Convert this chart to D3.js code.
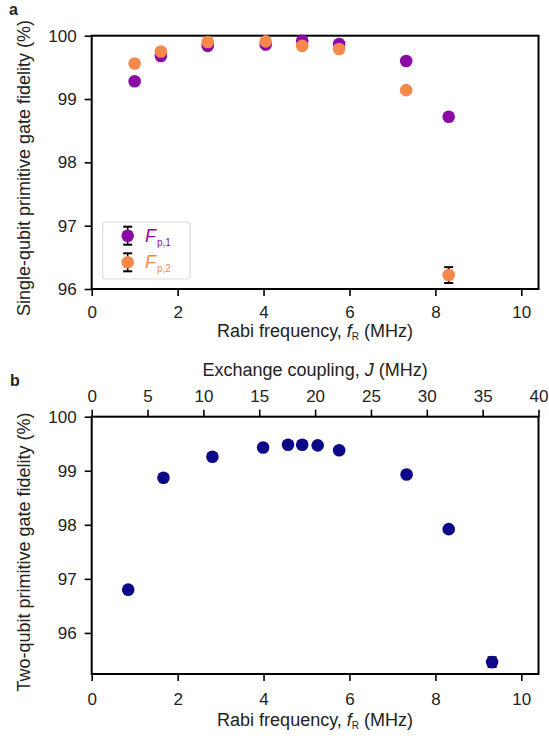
<!DOCTYPE html>
<html><head><meta charset="utf-8">
<script src="https://cdn.jsdelivr.net/npm/d3@7"></script>
<style>
body{margin:0;background:#fff;}
svg text{font-family:"Liberation Sans",Arial,sans-serif;fill:#222;}
</style></head>
<body><svg id="c" width="549" height="740"></svg>
<script>
// Panel a data
const rabiA = [1.0, 1.61, 2.70, 4.05, 4.90, 5.76, 7.32, 8.31];
const fp1 = [99.28, 99.68, 99.84, 99.86, 99.92, 99.87, 99.60, 98.72];
const fp1Err = [0.02, 0.02, 0.02, 0.02, 0.02, 0.02, 0.03, 0.04];
const fp2 = [99.56, 99.75, 99.90, 99.91, 99.84, 99.79, 99.14, 96.22];
const fp2Err = [0.02, 0.02, 0.02, 0.02, 0.02, 0.02, 0.04, 0.125];
// Panel b data
const rabiB = [0.85, 1.67, 2.81, 3.99, 4.57, 4.90, 5.26, 5.76, 7.33, 8.31, 9.32];
const fTwo = [96.80, 98.87, 99.26, 99.43, 99.48, 99.48, 99.47, 99.38, 98.93, 97.92, 95.46];
const fTwoErr = [0.03, 0.03, 0.02, 0.02, 0.02, 0.02, 0.02, 0.02, 0.03, 0.04, 0.09];
const xTicks = [0, 2, 4, 6, 8, 10];
const jTicks = [0, 5, 10, 15, 20, 25, 30, 35, 40];
const yTicksA = [96, 97, 98, 99, 100];
const yTicksB = [96, 97, 98, 99, 100];

const C1 = "#8b0aa5", C2 = "#f5894b", C3 = "#0d0887";
const svg = d3.select("#c");
const L = 91.7, R = 538.5;
const TS = 7;
const x = d3.scaleLinear().domain([0, 10.4]).range([L, R]);
const xJ = d3.scaleLinear().domain([0, 40]).range([L, R]);
const yA = d3.scaleLinear().domain([96, 100]).range([289, 35.7]);
const yB = d3.scaleLinear().domain([95.24, 100]).range([674, 416.7]);

function styleAxis(g){
  g.select(".domain").remove();
  g.selectAll(".tick line").attr("stroke","#000").attr("stroke-width",1.6);
  g.selectAll(".tick text").attr("font-size","17px").attr("fill","#222");
}
function frame(y0, y1){
  svg.append("rect").attr("x",L).attr("y",y1).attr("width",R-L).attr("height",y0-y1)
    .attr("fill","none").attr("stroke","#000").attr("stroke-width",2);
}
function xlabel(yPos){
  const t = svg.append("text").attr("x",(L+R)/2).attr("y",yPos).attr("text-anchor","middle").attr("font-size","18px");
  t.append("tspan").text("Rabi frequency, ");
  t.append("tspan").attr("font-style","italic").text("f");
  t.append("tspan").attr("font-size","10px").attr("dy","3").text("R");
  t.append("tspan").attr("dy","-3").text(" (MHz)");
}
function points(xs, ys, es, yS, color, r){
  const g = svg.append("g");
  xs.forEach((xv,i)=>{
    const cx = x(xv), yt = yS(ys[i]+es[i]), yb = yS(ys[i]-es[i]);
    g.append("line").attr("x1",cx).attr("x2",cx).attr("y1",yt).attr("y2",yb).attr("stroke","#000").attr("stroke-width",1.5);
    [yt,yb].forEach(yy=>g.append("line").attr("x1",cx-4.5).attr("x2",cx+4.5).attr("y1",yy).attr("y2",yy).attr("stroke","#000").attr("stroke-width",2));
  });
  g.selectAll("circle.p").data(xs).enter().append("circle")
    .attr("cx",(d)=>x(d)).attr("cy",(d,i)=>yS(ys[i])).attr("r",r).attr("fill",color);
}

// ---------- Panel a ----------
const gxA = svg.append("g").attr("transform","translate(0,289)")
  .call(d3.axisBottom(x).tickValues(xTicks).tickSize(TS).tickPadding(10).tickFormat(d3.format("d")));
styleAxis(gxA);
const gyA = svg.append("g").attr("transform",`translate(${L},0)`)
  .call(d3.axisLeft(yA).tickValues(yTicksA).tickSize(TS).tickPadding(8).tickFormat(d3.format("d")));
styleAxis(gyA);
frame(289, 35.7);
points(rabiA, fp1, fp1Err, yA, C1, 6.3);
points(rabiA, fp2, fp2Err, yA, C2, 6.3);
xlabel(337);
svg.append("text").attr("transform","translate(30,168) rotate(-90)").attr("text-anchor","middle")
  .attr("font-size","18px").text("Single-qubit primitive gate fidelity (%)");
svg.append("text").attr("x",9).attr("y",15).attr("font-size","16px").attr("font-weight","bold").attr("fill","#000").text("a");

// legend
svg.append("rect").attr("x",102.7).attr("y",222).attr("width",87.3).attr("height",57).attr("rx",3)
  .attr("fill","#fff").attr("stroke","#ddd").attr("stroke-width",1.2);
[[C1,"p,1",235.7],[C2,"p,2",262.3]].forEach(([c,s,yy])=>{
  const lx = 127.7;
  svg.append("line").attr("x1",lx).attr("x2",lx).attr("y1",yy-9).attr("y2",yy+9).attr("stroke","#000").attr("stroke-width",1.5);
  [yy-9,yy+9].forEach(v=>svg.append("line").attr("x1",lx-4.5).attr("x2",lx+4.5).attr("y1",v).attr("y2",v).attr("stroke","#000").attr("stroke-width",2));
  svg.append("circle").attr("cx",lx).attr("cy",yy).attr("r",6.3).attr("fill",c);
  const t = svg.append("text").attr("x",145).attr("y",yy+6).attr("font-size","18px").style("fill",c);
  t.append("tspan").attr("font-style","italic").text("F");
  t.append("tspan").attr("font-size","10px").attr("dy","4").attr("dx","1").text(s);
});

// ---------- Panel b ----------
const gxB = svg.append("g").attr("transform","translate(0,674)")
  .call(d3.axisBottom(x).tickValues(xTicks).tickSize(TS).tickPadding(12).tickFormat(d3.format("d")));
styleAxis(gxB);
const gjB = svg.append("g").attr("transform","translate(0,416.7)")
  .call(d3.axisTop(xJ).tickValues(jTicks).tickSize(TS).tickPadding(8).tickFormat(d3.format("d")));
styleAxis(gjB);
const gyB = svg.append("g").attr("transform",`translate(${L},0)`)
  .call(d3.axisLeft(yB).tickValues(yTicksB).tickSize(TS).tickPadding(8).tickFormat(d3.format("d")));
styleAxis(gyB);
frame(674, 416.7);
points(rabiB, fTwo, fTwoErr, yB, C3, 6.3);
xlabel(726);
const tj = svg.append("text").attr("x",(L+R)/2).attr("y",376).attr("text-anchor","middle").attr("font-size","18px");
tj.append("tspan").text("Exchange coupling, ");
tj.append("tspan").attr("font-style","italic").text("J");
tj.append("tspan").text(" (MHz)");
svg.append("text").attr("transform","translate(30,552) rotate(-90)").attr("text-anchor","middle")
  .attr("font-size","18px").text("Two-qubit primitive gate fidelity (%)");
svg.append("text").attr("x",10).attr("y",386).attr("font-size","16px").attr("font-weight","bold").attr("fill","#000").text("b");
</script></body></html>
